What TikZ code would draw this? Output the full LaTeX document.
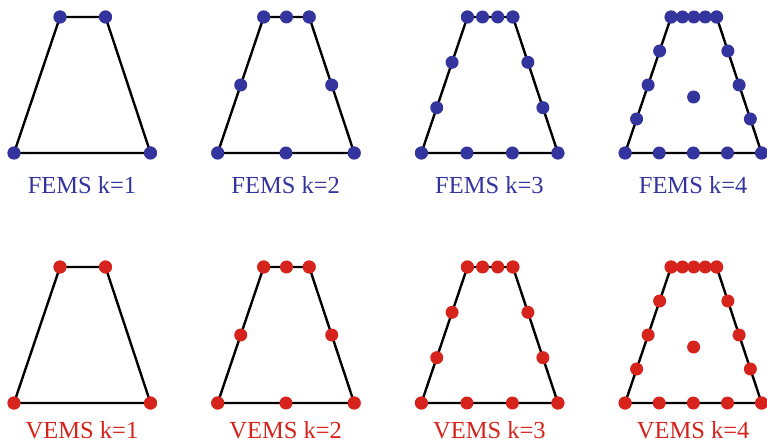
\documentclass[tikz,border=0pt]{standalone}
\usepackage{fontspec}
\setmainfont{Liberation Serif}
\usetikzlibrary{calc}
\definecolor{femsblue}{RGB}{52,52,158}
\definecolor{vemsred}{RGB}{214,35,28}
\begin{document}
\begin{tikzpicture}[x=1pt,y=-1pt,
 edge/.style={draw=black,line width=2.4pt,line join=round},
 lab/.style={anchor=base,text=#1,font=\fontsize{24.5}{28}\selectfont,inner sep=0pt}]
\useasboundingbox (0,0) rectangle (767,443);
\foreach \row/\yo/\col/\nm in {0/0/femsblue/FEMS,1/250/vemsred/VEMS}{
 \foreach \k in {1,2,3,4}{
  \pgfmathsetmacro\xo{14+203.7*(\k-1)}
  \coordinate (A\row\k) at (\xo,153+\yo);
  \coordinate (B\row\k) at (\xo+136.5,153+\yo);
  \coordinate (C\row\k) at (\xo+91.5,17+\yo);
  \coordinate (D\row\k) at (\xo+46,17+\yo);
  \draw[edge] (A\row\k) -- (B\row\k) -- (C\row\k) -- (D\row\k) -- cycle;
  \foreach \j in {0,...,\k}{
   \fill[\col] ($(A\row\k)!\j/\k!(B\row\k)$) circle[radius=6.5pt];
   \fill[\col] ($(B\row\k)!\j/\k!(C\row\k)$) circle[radius=6.5pt];
   \fill[\col] ($(C\row\k)!\j/\k!(D\row\k)$) circle[radius=6.5pt];
   \fill[\col] ($(D\row\k)!\j/\k!(A\row\k)$) circle[radius=6.5pt];
  }
  \ifnum\k=4
   \fill[\col] (\xo+68.5,97+\yo) circle[radius=6.5pt];
  \fi
  \node[lab=\col] (L\row\k) at (\xo+68,194+\yo-5.5*\row) {\nm{} k=\k};
 }
}
\end{tikzpicture}
\end{document}
